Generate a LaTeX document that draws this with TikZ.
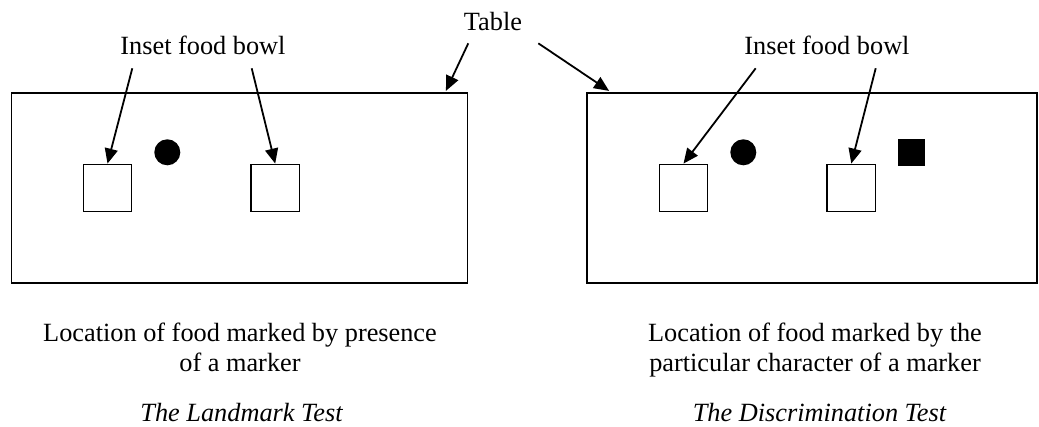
\documentclass[tikz,border=0pt]{standalone}
\usepackage{fontspec}
\setmainfont{Liberation Serif}
\usetikzlibrary{arrows.meta,calc}
\begin{document}
\begin{tikzpicture}[x=1pt,y=-1pt,
  lbl/.style={inner sep=0pt,font={\fontsize{26.3}{30.2}\selectfont}},
  tablebox/.style={draw,line width=1.8pt,inner sep=0pt,minimum height=190.6pt},
  bowl/.style={draw,line width=1.4pt,inner sep=0pt,minimum width=48.4pt,minimum height=47.4pt},
  dotmark/.style={circle,fill=black,inner sep=0pt,minimum size=26pt},
  sqmark/.style={rectangle,fill=black,inner sep=0pt,minimum size=26.4pt},
  pointer/.style={line width=1.8pt,-{Triangle[length=15pt,width=13pt]}}]
\useasboundingbox (0,0) rectangle (1039,427);
% tables
\node[tablebox,minimum width=456pt] (table1) at (239.5,188) {};
\node[tablebox,minimum width=449.7pt] (table2) at (812.15,188) {};
% bowls and markers
\node[bowl] (bowl1) at (107.5,188) {};
\node[bowl] (bowl2) at (275.2,188) {};
\node[bowl] (bowl3) at (683.5,188) {};
\node[bowl] (bowl4) at (851.3,188) {};
\node[dotmark] (dot1) at (167.3,152.3) {};
\node[dotmark] (dot2) at (743.3,152.3) {};
\node[sqmark] (sq1) at (911.5,152.5) {};
% labels
\node[lbl,anchor=base] (tablelbl) at (493,30.5) {Table};
\node[lbl,anchor=base] (inset1) at (203,54.3) {Inset food bowl};
\node[lbl,anchor=base] (inset2) at (827,54.3) {Inset food bowl};
% arrow start points
\coordinate (a1) at (132.3,68.3);
\coordinate (a2) at (251.7,68.3);
\coordinate (a3) at (755.7,68.3);
\coordinate (a4) at (875.7,68.3);
\coordinate (t1) at (468.3,43.3);
\coordinate (t2) at (538.3,43.3);
\draw[pointer] (a1) -- (bowl1.north);
\draw[pointer] (a2) -- (bowl2.north);
\draw[pointer] (a3) -- (bowl3.north);
\draw[pointer] (a4) -- (bowl4.north);
\draw[pointer] (t1) -- ([xshift=-22.5pt,yshift=0.9pt]table1.north east);
\draw[pointer] (t2) -- ([xshift=22.7pt,yshift=0.9pt]table2.north west);
% captions
\node[lbl,align=center,anchor=north] (cap1) at (240,323) {Location of food marked by presence\\of a marker};
\node[lbl,align=center,anchor=north] (cap2) at (815,323) {Location of food marked by the\\particular character of a marker};
\node[lbl,anchor=base,font={\fontsize{26.3}{30.2}\selectfont\itshape}] (test1) at (241.5,422) {The Landmark Test};
\node[lbl,anchor=base,font={\fontsize{26.3}{30.2}\selectfont\itshape}] (test2) at (819.5,422) {The Discrimination Test};
\end{tikzpicture}
\end{document}
